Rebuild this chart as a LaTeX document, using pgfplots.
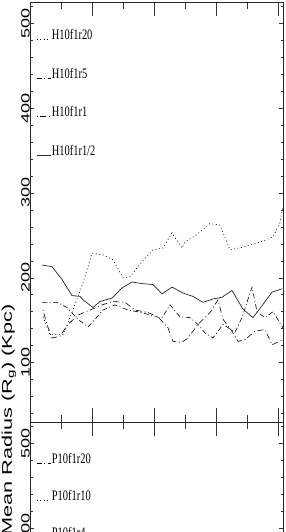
\documentclass[border=0pt]{standalone}
\usepackage{pgfplots}
\pgfplotsset{compat=1.18}
\usepackage{graphicx}
\usepackage{fontspec}
\setmainfont{Liberation Serif}
\newfontfamily\hfont{Liberation Sans}
\newcommand{\lt}[1]{\scalebox{0.72}[1]{\fontsize{14.5}{14.5}\selectfont #1}}
\pgfplotsset{
  panel/.style={scale only axis, width=253pt, height=420pt,
    xmin=0, xmax=253, ymin=30, ymax=525,
    axis line style={line width=0.8pt, black!85}},
  xt/.style={xtick={0,62,124,186,248}, minor xtick={31,93,155,217},
    xticklabels={}, major tick length=14pt, minor tick length=7pt, ytick=\empty,
    every tick/.style={black!80, line width=0.5pt}},
  yt/.style={xtick=\empty, ytick={100,200,300,400,500}, minor ytick={40,60,...,520},
    major tick length=4pt, minor tick length=2.5pt, axis line style={draw=none},
    every tick/.style={black!80, line width=0.5pt},
    yticklabel style={rotate=90, anchor=south, inner sep=0pt},
    yticklabel={\scalebox{1.5}[1]{\hfont\fontsize{12}{12}\selectfont\pgfmathprintnumber[assume math mode=true]{\tick}}}},
  leg/.style={legend style={draw=none, fill=none, inner sep=0pt, column sep=1pt,
    row sep=#1, nodes={inner sep=0pt, text height=10pt, text depth=3pt}},
    legend cell align=left,
    legend image code/.code={\draw[##1, line width=0.6pt] (0pt,-3pt) -- (14pt,-3pt);}},
  ldot/.style={black, line width=0.6pt, dash pattern=on 1pt off 2.5pt},
  ldd/.style={black, line width=0.6pt, dash pattern=on 5pt off 2.5pt on 1pt off 2.5pt},
  ldash/.style={black, line width=0.6pt, dash pattern=on 1pt off 2.5pt on 6pt off 3pt},
  lsolid/.style={black!85, line width=0.7pt},
}
\begin{document}
\begin{tikzpicture}
\useasboundingbox (0pt,0pt) rectangle (285pt,532pt);
% ---------- top panel ----------
\begin{axis}[panel, xt, leg=25.5pt, at={(30pt,110pt)}, anchor=south west,
  legend style={at={(rel axis cs:0.024,0.934)}, anchor=north west}]
\addplot[ldot] coordinates {(13,154) (20,133) (33,133) (43,162) (53,194) (62,229)
 (73,227) (83,221) (93,200) (100,201) (112,219) (123,233) (133,235) (142,253)
 (152,235) (155,242) (167,251) (180,264) (190,262) (200,233) (213,236) (230,242)
 (243,248) (250,265) (253,284)};
\addlegendentry{\lt{H10f1r20}}
\addplot[ldd] coordinates {(12,171) (17,171) (27,171) (37,165) (48,151) (58,142)
 (65,151) (73,162) (85,168) (98,162) (112,159) (125,154) (132,153) (140,168)
 (150,154) (160,153) (168,145) (175,135) (183,129) (193,145) (205,136) (212,153)
 (222,189) (227,160) (235,153) (243,160) (253,141)};
\addlegendentry{\lt{H10f1r5}}
\addplot[ldash] coordinates {(13,162) (17,145) (22,129) (30,131) (38,145) (48,156)
 (60,162) (72,168) (83,172) (95,171) (105,162) (118,159) (128,154) (138,141)
 (143,125) (152,124) (158,129) (168,145) (180,159) (188,174) (193,151) (202,137)
 (208,125) (215,127) (225,137) (235,139) (242,121) (253,127)};
\addlegendentry{\lt{H10f1r1}}
\addplot[lsolid] coordinates {(12,215) (22,213) (32,198) (42,179) (50,178) (53,174)
 (63,165) (70,172) (82,176) (92,188) (102,195) (113,193) (123,192) (132,181)
 (142,189) (153,182) (163,178) (173,171) (183,175) (192,177) (202,185) (213,163)
 (223,153) (232,167) (242,183) (252,187)};
\addlegendentry{\lt{H10f1r1/2}}
\end{axis}
\begin{axis}[panel, yt, at={(30pt,110pt)}, anchor=south west]
\end{axis}
% ---------- bottom panel ----------
\begin{axis}[panel, xt, leg=24pt, at={(30pt,110pt)}, anchor=north west,
  legend style={at={(rel axis cs:0.024,0.925)}, anchor=north west}]
\addlegendimage{ldd}
\addlegendentry{\lt{P10f1r20}}
\addlegendimage{ldot}
\addlegendentry{\lt{P10f1r10}}
\addlegendimage{ldash}
\addlegendentry{\lt{P10f1r4}}
\addlegendimage{lsolid}
\addlegendentry{\lt{P10f1r1}}
\end{axis}
\begin{axis}[panel, yt, at={(30pt,110pt)}, anchor=north west]
\end{axis}
\node[rotate=90, inner sep=0pt] at (9pt,112pt)
  {\scalebox{1.55}[1]{\hfont\fontsize{14}{14}\selectfont Mean Radius (R\textsubscript{g}) (Kpc)}};
\end{tikzpicture}
\end{document}
